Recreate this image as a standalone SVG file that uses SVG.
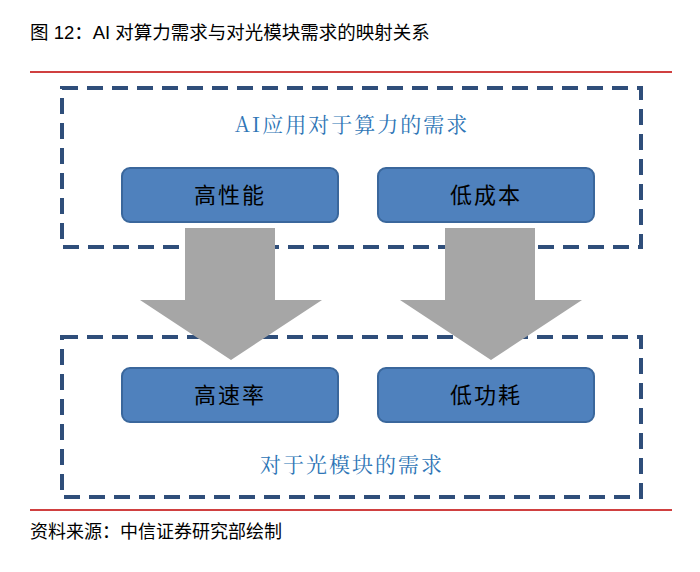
<svg xmlns="http://www.w3.org/2000/svg" width="700" height="572" viewBox="0 0 700 572">
<style>
.t{font-family:"Liberation Sans","Noto Sans CJK SC",sans-serif;fill:#000}
.dash{fill:none;stroke:#2F4E7A;stroke-width:4;stroke-dasharray:16 9}
.box{fill:#4F81BD;stroke:#3A679C;stroke-width:2}
.bt{font-family:"Noto Sans CJK SC",sans-serif;font-size:22px;fill:#000;text-anchor:middle;letter-spacing:2px}
.hd{font-family:"Noto Serif CJK SC","Liberation Serif","Noto Sans CJK SC",serif;font-size:21px;fill:#2E75B6;text-anchor:middle;letter-spacing:2px}
.arr{fill:#A6A6A6}
.red{stroke:#C00000;stroke-width:1.5}
</style>
<rect width="700" height="572" fill="#fff"/>
<text class="t" x="30" y="39" font-size="18.5">图 12：AI 对算力需求与对光模块需求的映射关系</text>
<line class="red" x1="30" y1="72" x2="672" y2="72"/>
<g id="group1"><rect class="dash" x="62" y="88" width="579" height="159"/><text class="hd" x="352" y="132">AI应用对于算力的需求</text></g>
<g id="group2"><rect class="dash" x="62" y="337" width="579" height="160"/><text class="hd" x="352" y="472">对于光模块的需求</text></g>
<g id="n1"><rect class="box" x="122" y="168" width="216" height="54" rx="8"/><text class="bt" x="230" y="203">高性能</text></g>
<g id="n2"><rect class="box" x="378" y="168" width="216" height="54" rx="8"/><text class="bt" x="486" y="203">低成本</text></g>
<g id="n3"><rect class="box" x="122" y="368" width="216" height="54" rx="8"/><text class="bt" x="230" y="403">高速率</text></g>
<g id="n4"><rect class="box" x="378" y="368" width="216" height="54" rx="8"/><text class="bt" x="486" y="403">低功耗</text></g>
<g id="connectors">
<polygon class="arr" points="185,228 275,228 275,300 322,300 231,360 140,300 185,300"/>
<polygon class="arr" points="445,228 535,228 535,300 582,300 491,360 400,300 445,300"/>
</g>
<line class="red" x1="30" y1="510" x2="672" y2="510"/>
<text class="t" x="30" y="538" font-size="18">资料来源：中信证券研究部绘制</text>
</svg>
